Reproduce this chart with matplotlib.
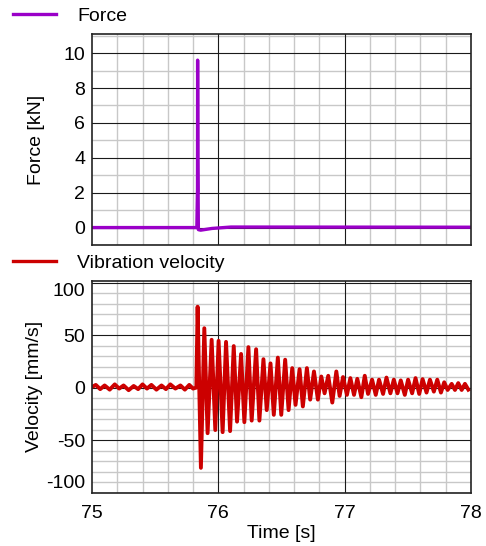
import matplotlib
matplotlib.use("Agg")
import matplotlib.pyplot as plt
from matplotlib.ticker import FixedLocator
from matplotlib.lines import Line2D

plt.rcParams['font.family'] = ['Liberation Sans', 'DejaVu Sans']
plt.rcParams['axes.unicode_minus'] = False

# --- Force signal (kN) ---
force_t = [75.0, 75.830, 75.834, 75.835, 75.836, 75.838, 75.842, 75.860, 75.950, 76.100, 78.0]
force_kn = [0.0, 0.0, 1.9, 2.1, 9.6, 4.0, -0.12, -0.15, -0.05, 0.03, 0.02]

# --- Vibration velocity (mm/s): pre-impact noise, then peaks / troughs of the ringing ---
noise_t = [75.00, 75.03, 75.065, 75.10, 75.14, 75.18, 75.215, 75.25, 75.29, 75.33, 75.365, 75.40,
           75.435, 75.47, 75.51, 75.55, 75.585, 75.62, 75.66, 75.70, 75.735, 75.77, 75.80, 75.826]
noise_v = [0.5, 2.5, -1.5, 2.0, -2.0, 3.0, -1.0, 2.0, -2.5, 1.5, -1.5, 3.0,
           -1.0, 2.5, -2.0, 2.0, -1.5, 3.0, -1.0, 2.0, -2.0, 2.5, -1.0, 0.0]

peak_t = [75.836, 75.889, 75.947, 76.002, 76.061, 76.122, 76.180, 76.238, 76.299, 76.357,
          76.413, 76.471, 76.529, 76.585, 76.643, 76.701, 76.757, 76.815, 76.870, 76.934,
          76.987, 77.045, 77.100, 77.159, 77.217, 77.272, 77.331, 77.389, 77.444, 77.502,
          77.561, 77.617, 77.675, 77.733, 77.788, 77.847, 77.899, 77.952]
peak_v = [77, 56.5, 45.5, 44.5, 43.5, 39.5, 32, 38.5, 36.5, 27,
          23, 28.5, 26.5, 18.5, 17.5, 18.5, 15.3, 10.5, 11.2, 15.3,
          10, 9, 8.3, 11.2, 7.5, 7.5, 9.5, 7.5, 6.8, 7.5,
          9, 8, 7.5, 7.5, 5, 3.5, 4.2, 3.5]

trough_t = [75.862, 75.915, 75.976, 76.034, 76.093, 76.148, 76.206, 76.264, 76.325, 76.383,
            76.439, 76.498, 76.556, 76.611, 76.669, 76.727, 76.788, 76.841, 76.902, 76.960,
            77.018, 77.074, 77.132, 77.185, 77.246, 77.304, 77.362, 77.418, 77.476, 77.534,
            77.590, 77.648, 77.706, 77.762, 77.815, 77.873, 77.926, 77.979]
trough_v = [-76.5, -43.5, -40.5, -42.5, -41.5, -32.5, -33, -31.5, -31.5, -21.5,
            -26, -26, -21.5, -16.5, -18, -11.5, -11.5, -5.5, -14.3, -8,
            -7, -7, -9.2, -6.1, -7, -6.1, -5.5, -5.5, -7, -5.5,
            -6.1, -4.8, -3.9, -4.8, -2.3, -2.3, -2.3, -2]

x_ticks = [75, 76, 77, 78]
force_ticks = [0, 2, 4, 6, 8, 10]
vel_ticks = [-100, -50, 0, 50, 100]

FORCE_COLOR = '#9a00c8'
VEL_COLOR = '#cc0000'
MAJOR_GRID = '#1a1a1a'
MINOR_GRID = '#c8c8c8'
FS = 14

ring = sorted(zip(peak_t + trough_t, peak_v + trough_v))
vel_t = noise_t + [p[0] for p in ring]
vel_v = noise_v + [p[1] for p in ring]

W, H = 486, 546
fig = plt.figure(figsize=(W / 100, H / 100), dpi=100)
ax1 = fig.add_axes([92 / W, 1 - 245 / H, (471 - 92) / W, (245 - 34) / H])
ax2 = fig.add_axes([92 / W, 1 - 492.5 / H, (471 - 92) / W, (492.5 - 281) / H])


def minor_between(major, n):
    # grid positions between the major ticks (majors themselves left out)
    out = []
    for a, b in zip(major[:-1], major[1:]):
        step = (b - a) / n
        out += [round(a + k * step, 6) for k in range(1, n)]
    return out


def style_axes(ax, yticks, yminor):
    ax.set_xlim(75, 78)
    ax.set_xticks(x_ticks)
    ax.xaxis.set_minor_locator(FixedLocator(minor_between(x_ticks, 5)))
    ax.set_yticks(yticks)
    ax.yaxis.set_minor_locator(FixedLocator(yminor))
    ax.set_axisbelow(True)
    ax.grid(which='minor', color=MINOR_GRID, linewidth=1.0)
    # major grid drawn as lines so the light minor grid never cuts through it
    for t in x_ticks[1:-1]:
        ax.axvline(t, color=MAJOR_GRID, linewidth=0.8, zorder=1)
    for v in yticks:
        ax.axhline(v, color=MAJOR_GRID, linewidth=0.8, zorder=1)
    ax.tick_params(which='both', length=0, labelsize=FS)
    ax.tick_params(axis='y', pad=5)
    ax.tick_params(axis='x', pad=9)
    for s in ax.spines.values():
        s.set_color('#222222')
        s.set_linewidth(1.2)
        s.set_zorder(3)


# top: force
style_axes(ax1, force_ticks, minor_between([-2] + force_ticks + [12], 2))
ax1.set_ylim(-1.0, 11.1)
ax1.plot(force_t, force_kn, color=FORCE_COLOR, linewidth=2.4, solid_joinstyle='round', zorder=2)
ax1.set_ylabel('Force [kN]', fontsize=FS, labelpad=13)
ax1.tick_params(axis='x', labelbottom=False)

# bottom: velocity
style_axes(ax2, vel_ticks, minor_between(vel_ticks, 5))
ax2.set_ylim(-100, 101.5)
ax2.plot(vel_t, vel_v, color=VEL_COLOR, linewidth=2.8, solid_joinstyle='round', zorder=2)
ax2.set_ylabel('Velocity [mm/s]', fontsize=FS, labelpad=2)
ax2.set_xlabel('Time [s]', fontsize=FS, labelpad=2)
ylabs = ax2.get_yticklabels()
ylabs[0].set_va('bottom')
ylabs[-1].set_va('top')

# legends above each panel
for ax, label, color, ypix in [(ax1, 'Force', FORCE_COLOR, 16), (ax2, 'Vibration velocity', VEL_COLOR, 263)]:
    h = Line2D([], [], color=color, linewidth=2.4)
    ax.legend([h], [label], loc='center left', bbox_to_anchor=(13 / W, 1 - ypix / H),
              bbox_transform=fig.transFigure, frameon=False, fontsize=FS,
              handlelength=2.2, handletextpad=1.1, borderpad=0, borderaxespad=0)

fig.savefig('out.png', dpi=100)
